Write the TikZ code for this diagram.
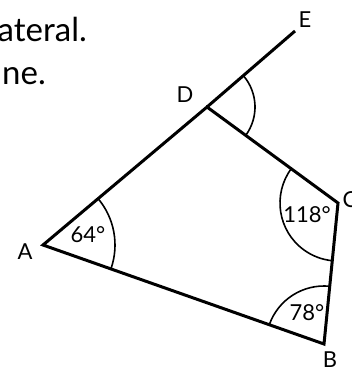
\documentclass[tikz,border=0pt]{standalone}
\usepackage{fontspec}
\setmainfont{Lato}
\usetikzlibrary{angles,positioning}

\begin{document}
\begin{tikzpicture}[
 x=1pt,y=1pt,
 side/.style={line width=3pt,line join=miter},
 angarc/.style={draw,line width=1.6pt},
 every node/.style={font=\fontsize{22}{26}\selectfont,inner sep=0pt},
 caption/.style={font=\fontsize{33}{40}\selectfont,anchor=base east}]
\useasboundingbox (0,0) rectangle (352,370);
\coordinate (A) at (43,125);
\coordinate (B) at (324,26);
\coordinate (C) at (338,167);
\coordinate (D) at (207,263);
\coordinate (E) at (295,339);
\draw[side] (A) -- (B) -- (C) -- (D) -- cycle;
\draw[side] (D) -- (E);
\pic[angarc,angle radius=72pt] {angle=B--A--D};
\pic[angarc,angle radius=58pt] {angle=C--B--A};
\pic[angarc,angle radius=58pt] {angle=D--C--B};
\pic[angarc,angle radius=48pt] {angle=C--D--E};
\node (lA) at (25,118) {A};
\node (lB) at (330,10) {B};
\node (lC) at (350,170) {C};
\node (lD) at (185,275) {D};
\node (lE) at (305,350) {E};
\node (a1) at (88,135) {64°};
\node (a2) at (307,155) {118°};
\node (a3) at (307,57) {78°};
\node[caption] (t1) at (87,328) {ateral.};
\node[caption] (t2) at (46,285) {ne.};
\end{tikzpicture}
\end{document}
